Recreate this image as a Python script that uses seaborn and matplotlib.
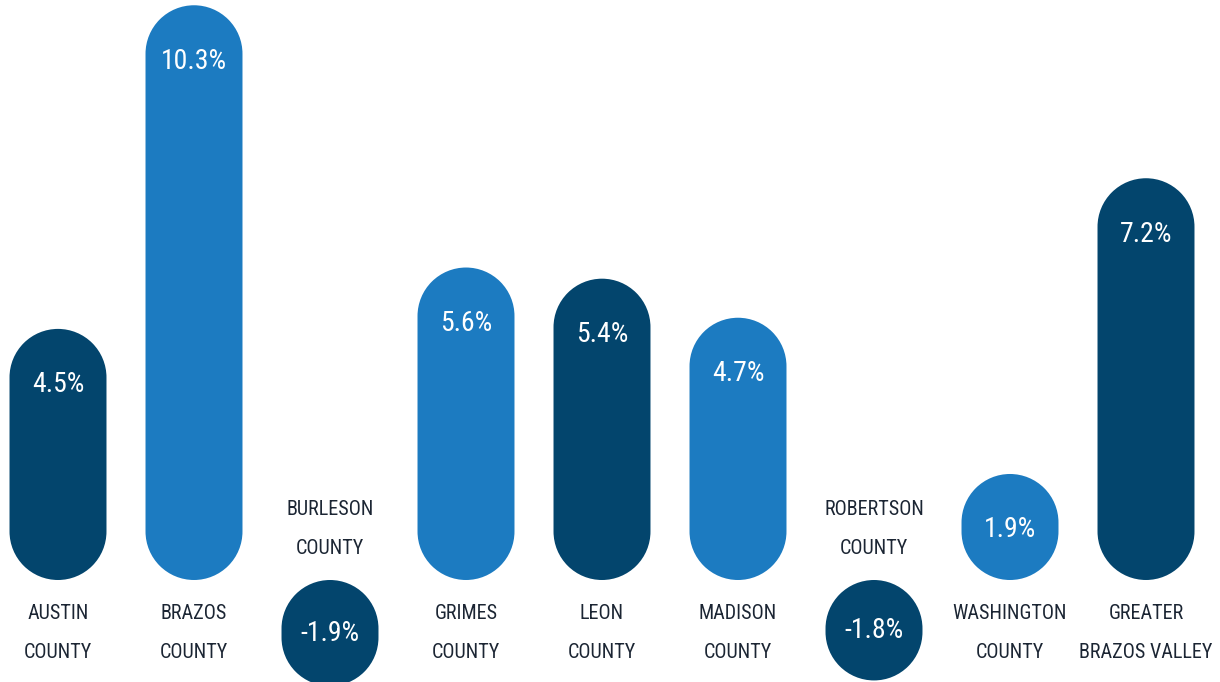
import matplotlib
matplotlib.use("Agg")
import matplotlib.pyplot as plt
import seaborn as sns
import numpy as np
import pandas as pd
from matplotlib.path import Path
from matplotlib.patches import PathPatch

# population growth by county, in percent
counties = ["AUSTIN\nCOUNTY", "BRAZOS\nCOUNTY", "BURLESON\nCOUNTY", "GRIMES\nCOUNTY",
            "LEON\nCOUNTY", "MADISON\nCOUNTY", "ROBERTSON\nCOUNTY", "WASHINGTON\nCOUNTY",
            "GREATER\nBRAZOS VALLEY"]
growth = [4.5, 10.3, -1.9, 5.6, 5.4, 4.7, -1.8, 1.9, 7.2]
shade = ["dark", "light", "dark", "light", "dark", "light", "dark", "light", "dark"]

DARK = "#03456D"
LIGHT = "#1C7BC1"
TEXT = "#1B2533"

sns.set_theme(style="white")
plt.rcParams["font.family"] = ["Roboto Condensed", "Liberation Sans"]

df = pd.DataFrame({"county": counties, "growth": growth, "shade": shade})

fig = plt.figure(figsize=(12.2, 6.82), dpi=100)
ax = fig.add_axes([0, 0, 1, 1])
sns.barplot(data=df, x="county", y="growth", hue="shade",
            palette={"dark": DARK, "light": LIGHT}, width=0.713, saturation=1,
            dodge=False, legend=False, ax=ax)

# pixels per data unit, so the pill ends come out round
px_x, px_y = 136.0, 55.8
ax.set_xlim(-58 / px_x, (1220 - 58) / px_x)
ax.set_ylim(-102 / px_y, 580 / px_y)
aspect = px_x / px_y


def pill_path(x0, y0, w, h, ry):
    rx = w / 2
    cx = x0 + rx
    bot = Path.arc(180, 360)
    top = Path.arc(0, 180)
    vb = bot.vertices * [rx, ry] + [cx, y0 + ry]
    vt = top.vertices * [rx, ry] + [cx, y0 + h - ry]
    codes_t = top.codes.copy()
    codes_t[0] = Path.LINETO
    verts = np.concatenate([vb, vt, vb[:1]])
    codes = np.concatenate([bot.codes, codes_t, [Path.CLOSEPOLY]])
    return Path(verts, codes)


# turn each seaborn bar into a pill with half circles at both ends
for bar in list(ax.patches):
    x0, w = bar.get_x(), bar.get_width()
    y0 = min(bar.get_y(), bar.get_y() + bar.get_height())
    h = abs(bar.get_height())
    fc = bar.get_facecolor()
    bar.remove()
    ax.add_patch(PathPatch(pill_path(x0, y0, w, h, w / 2 * aspect), fc=fc, ec="none"))

for i, (name, v) in enumerate(zip(counties, growth)):
    if v > 0:
        ax.text(i, v - 1.0, f"{v:.1f}%", ha="center", va="center",
                color="white", fontsize=20)
        ax.text(i, -0.95, name, ha="center", va="center", color=TEXT,
                fontsize=14.5, linespacing=2.35)
    else:
        ax.text(i, v / 2, f"{v:.1f}%", ha="center", va="center",
                color="white", fontsize=20)
        ax.text(i, 0.91, name, ha="center", va="center", color=TEXT,
                fontsize=14.5, linespacing=2.35)

ax.axis("off")
fig.savefig("out.png", dpi=100)
